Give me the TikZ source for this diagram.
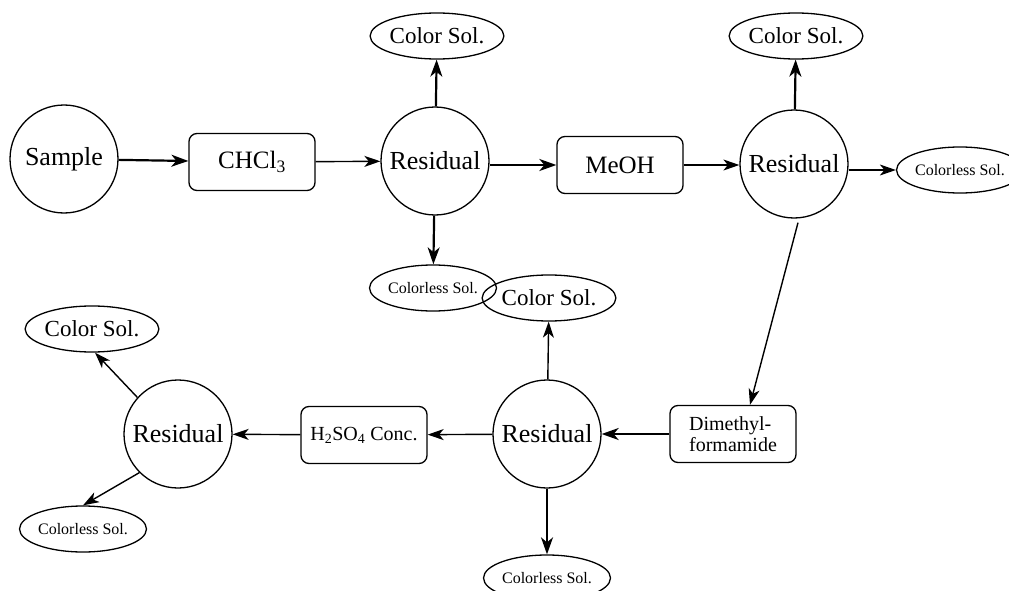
\documentclass[tikz,border=0pt]{standalone}
\usepackage{fontspec}
\setmainfont{Liberation Serif}
\usetikzlibrary{shapes.geometric,arrows.meta}
\tikzset{
  circ/.style={circle,draw,line width=1.3pt,minimum size=108pt,inner sep=0pt,font=\fontsize{26}{28}\selectfont},
  rbox/.style={rectangle,rounded corners=8pt,draw,line width=1.3pt,minimum width=126pt,minimum height=57pt,inner sep=0pt},
  bigtxt/.style={font=\fontsize{25}{28}\selectfont},
  midtxt/.style={font=\fontsize{20}{21}\selectfont},
  sol/.style={ellipse,draw,line width=1.3pt,minimum width=120pt,minimum height=46pt,inner sep=0pt},
  colsol/.style={sol,font=\fontsize{23}{24}\selectfont},
  clsol/.style={sol,font=\fontsize{16}{18}\selectfont},
  thk/.style={line width=2.2pt,-{Stealth[length=17pt,width=12pt,inset=5pt]}},
  thn/.style={line width=1.4pt,-{Stealth[length=16pt,width=11pt,inset=4.5pt]}},
}
\begin{document}
\begin{tikzpicture}[x=1pt,y=-1pt]
\useasboundingbox (0,0) rectangle (1009,591);
% nodes
\node[circ] (sample) at (64,159) {Sample};
\node[rbox,bigtxt] (chcl3) at (252,162) {CHCl\textsubscript{3}};
\node[circ] (res1) at (435,161) {Residual};
\node[colsol] (cs1) at (437,36) {Color Sol.};
\node[clsol] (cl1) at (433,288) {Colorless Sol.};
\node[rbox,bigtxt] (meoh) at (620,165) {MeOH};
\node[circ] (res2) at (794,164) {Residual};
\node[colsol] (cs2) at (796,36) {Color Sol.};
\node[clsol] (cl2) at (960,170) {Colorless Sol.};
\node[rbox,midtxt,align=left] (dmf) at (733,434) {Dimethyl-\\formamide};
\node[circ] (res3) at (547,434) {Residual};
\node[colsol] (cs3) at (549,298) {Color Sol.};
\node[clsol] (cl3) at (547,578) {Colorless Sol.};
\node[rbox,midtxt] (h2so4) at (364,435) {H\textsubscript{2}SO\textsubscript{4} Conc.};
\node[circ] (res4) at (178,434) {Residual};
\node[colsol] (cs4) at (92,329) {Color Sol.};
\node[clsol] (cl4) at (83,529) {Colorless Sol.};
% connectors
\draw[thk] (sample) -- (chcl3);
\draw[thn] (chcl3) -- (res1);
\draw[thk] (res1) -- (cs1);
\draw[thk] (res1) -- (cl1);
\draw[thk] (res1.east |- meoh.west) -- (meoh.west);
\draw[thn] (meoh.east) -- (res2.west |- meoh.east);
\draw[thk] (res2) -- (cs2);
\draw[thn] (res2.east |- cl2.west) -- (cl2.west);
\draw[thn] ([shift={(4pt,-4pt)}]res2.south) -- ([xshift=17pt]dmf.north);
\draw[thk] (dmf) -- (res3);
\draw[thn] (res3) -- (cs3);
\draw[thk] (res3) -- (cl3);
\draw[thn] (res3) -- (h2so4);
\draw[thn] (h2so4) -- (res4);
\draw[thn] (res4.138) -- ([xshift=3pt]cs4.south);
\draw[thn] (res4.225) -- (cl4.north);
\end{tikzpicture}
\end{document}
